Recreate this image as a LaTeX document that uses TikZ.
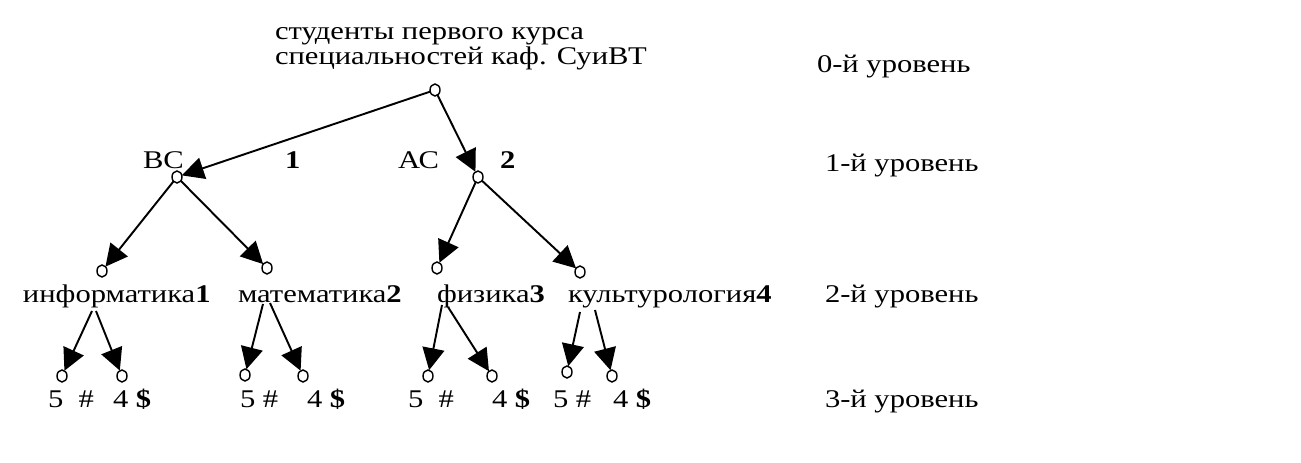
\documentclass[tikz,border=0pt]{standalone}
\usepackage{fontspec}
\setmainfont{Liberation Serif}[FakeStretch=1.2]
\usetikzlibrary{arrows.meta,shapes.geometric}
\begin{document}
\begin{tikzpicture}[x=0.2mm,y=-0.2mm,inner sep=0pt,outer sep=0pt,line width=1.1pt,
vertex/.style={draw,ellipse,minimum width=2mm,minimum height=2.4mm,line width=0.8pt},
lbl/.style={anchor=base west,font=\fontsize{14.5}{14.5}\selectfont},
>={Triangle[length=4.4mm,width=4.4mm]}]
\useasboundingbox (0,0) rectangle (1301,463);
\draw (275,40) node[lbl] (title1) {студенты первого курса};
\draw (275,65) node[lbl] (title2) {специальностей каф. СуиВТ};
\draw (435,90) node[vertex] (root) {};
\draw (177,177) node[vertex] (vs) {};
\draw (478,177) node[vertex] (as) {};
\draw (143,169) node[lbl] (vsname) {ВС};
\draw (285,169) node[lbl] (vsnum) {\textbf{1}};
\draw (398,169) node[lbl] (asname) {АС};
\draw (500,169) node[lbl] (asnum) {\textbf{2}};
\draw[->] (root) -- (vs);
\draw[->] (root) -- (as);
\draw (102,271) node[vertex] (inf) {};
\draw (267,268) node[vertex] (mat) {};
\draw (437,268) node[vertex] (fiz) {};
\draw (580,272) node[vertex] (kul) {};
\draw[->] (vs) -- (inf);
\draw[->] (vs) -- (mat);
\draw[->] (as) -- (fiz);
\draw[->] (as) -- (kul);
\draw (23,303) node[lbl] (infname) {информатика\textbf{1}};
\draw (238,303) node[lbl] (matname) {математика\textbf{2}};
\draw (437,303) node[lbl] (fizname) {физика\textbf{3}};
\draw (568,303) node[lbl] (kulname) {культурология\textbf{4}};
\draw (62,376) node[vertex] (inf5) {};
\draw (122,376) node[vertex] (inf4) {};
\draw (245,375) node[vertex] (mat5) {};
\draw (303,376) node[vertex] (mat4) {};
\draw (428,376) node[vertex] (fiz5) {};
\draw (492,376) node[vertex] (fiz4) {};
\draw (567,372) node[vertex] (kul5) {};
\draw (612,376) node[vertex] (kul4) {};
\coordinate (infa) at (92,311);
\coordinate (infb) at (96,311);
\coordinate (mata) at (263,304);
\coordinate (matb) at (270,303);
\coordinate (fiza) at (442,305);
\coordinate (fizb) at (448,307);
\coordinate (kula) at (580,312);
\coordinate (kulb) at (595,310);
\draw[->] (infa) -- (inf5);
\draw[->] (infb) -- (inf4);
\draw[->] (mata) -- (mat5);
\draw[->] (matb) -- (mat4);
\draw[->] (fiza) -- (fiz5);
\draw[->] (fizb) -- (fiz4);
\draw[->] (kula) -- (kul5);
\draw[->] (kulb) -- (kul4);
\draw (48,408) node[lbl] (inf5txt) {5~~\#};
\draw (113,408) node[lbl] (inf4txt) {4 \textbf{\$}};
\draw (240,408) node[lbl] (mat5txt) {5 \#};
\draw (307,408) node[lbl] (mat4txt) {4 \textbf{\$}};
\draw (408,408) node[lbl] (fiz5txt) {5~~\#};
\draw (492,408) node[lbl] (fiz4txt) {4 \textbf{\$}};
\draw (553,408) node[lbl] (kul5txt) {5 \#};
\draw (613,408) node[lbl] (kul4txt) {4 \textbf{\$}};
\draw (817,73) node[lbl] (lev0) {0-й уровень};
\draw (825,172) node[lbl] (lev1) {1-й уровень};
\draw (825,303) node[lbl] (lev2) {2-й уровень};
\draw (825,408) node[lbl] (lev3) {3-й уровень};
\end{tikzpicture}
\end{document}
